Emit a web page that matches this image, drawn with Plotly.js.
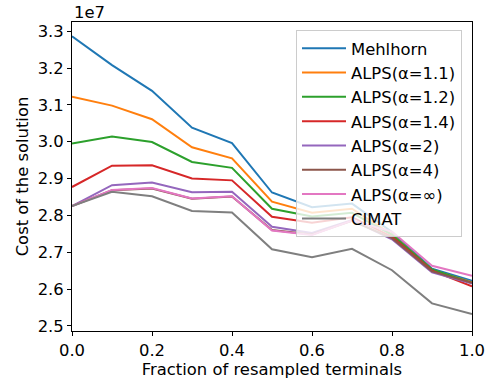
<!DOCTYPE html>
<html>
<head>
<meta charset="utf-8">
<script src="https://cdn.plot.ly/plotly-3.0.1.min.js"></script>
<style>html,body{margin:0;padding:0;background:#fff;}#chart{width:487px;height:381px;}</style>
</head>
<body>
<div id="chart"></div>
<script>
const fractions = [0.0, 0.1, 0.2, 0.3, 0.4, 0.5, 0.6, 0.7, 0.8, 0.9, 1.0];
const seriesNames = ["Mehlhorn", "ALPS(α=1.1)", "ALPS(α=1.2)", "ALPS(α=1.4)", "ALPS(α=2)", "ALPS(α=4)", "ALPS(α=∞)", "CIMAT"];
const seriesColors = ["#1f77b4", "#ff7f0e", "#2ca02c", "#d62728", "#9467bd", "#8c564b", "#e377c2", "#7f7f7f"];
// values in units of 1e7
const mehlhorn = [3.286, 3.208, 3.138, 3.038, 2.996, 2.862, 2.822, 2.832, 2.755, 2.655, 2.622];
const alps11   = [3.122, 3.098, 3.061, 2.985, 2.955, 2.837, 2.807, 2.818, 2.748, 2.652, 2.618];
const alps12   = [2.995, 3.014, 2.999, 2.945, 2.929, 2.818, 2.797, 2.807, 2.747, 2.653, 2.617];
const alps14   = [2.877, 2.935, 2.936, 2.900, 2.895, 2.796, 2.780, 2.795, 2.742, 2.650, 2.607];
const alps2    = [2.825, 2.882, 2.889, 2.863, 2.864, 2.769, 2.752, 2.787, 2.735, 2.645, 2.615];
const alps4    = [2.825, 2.868, 2.873, 2.845, 2.851, 2.760, 2.748, 2.785, 2.738, 2.648, 2.617];
const alpsInf  = [2.825, 2.869, 2.874, 2.846, 2.852, 2.759, 2.747, 2.786, 2.756, 2.663, 2.636];
const cimat    = [2.825, 2.864, 2.852, 2.812, 2.808, 2.708, 2.686, 2.709, 2.651, 2.561, 2.532];
const scale = 1e7;
const yTickVals = [2.5, 2.6, 2.7, 2.8, 2.9, 3.0, 3.1, 3.2, 3.3];
const yTickText = ["2.5", "2.6", "2.7", "2.8", "2.9", "3.0", "3.1", "3.2", "3.3"];
const xTickVals = [0.0, 0.2, 0.4, 0.6, 0.8, 1.0];
const xTickText = ["0.0", "0.2", "0.4", "0.6", "0.8", "1.0"];

const allSeries = [mehlhorn, alps11, alps12, alps14, alps2, alps4, alpsInf, cimat];
const traces = allSeries.map((vals, i) => ({
  x: fractions,
  y: vals.map(v => v * scale),
  type: "scatter",
  mode: "lines",
  name: seriesNames[i],
  legendgroup: seriesNames[i],
  line: {color: seriesColors[i], width: 2}
}));

const font = {family: "DejaVu Sans, sans-serif", size: 16.4, color: "#000"};
const layout = {
  width: 487, height: 381,
  margin: {l: 72, r: 15, t: 22, b: 50},
  paper_bgcolor: "#fff", plot_bgcolor: "#fff",
  font: font,
  showlegend: true,
  legend: {
    x: 0.975, y: 0.974, xanchor: "right", yanchor: "top",
    bgcolor: "rgba(255,255,255,0.8)", bordercolor: "#cccccc", borderwidth: 1,
    font: {family: "DejaVu Sans, sans-serif", size: 16.4, color: "#000"},
    traceorder: "grouped", tracegroupgap: 0, itemwidth: 44
  },
  xaxis: {
    range: [0, 1],
    tickvals: xTickVals, ticktext: xTickText,
    ticks: "outside", ticklen: 4, tickwidth: 1, tickcolor: "#000",
    showline: true, linecolor: "#000", linewidth: 1, mirror: true,
    showgrid: false, zeroline: false,
    title: {text: "Fraction of resampled terminals", font: font, standoff: 2}
  },
  yaxis: {
    range: [2.486 * scale, 3.325 * scale],
    tickvals: yTickVals.map(v => v * scale), ticktext: yTickText,
    ticks: "outside", ticklen: 4, tickwidth: 1, tickcolor: "#000",
    showline: true, linecolor: "#000", linewidth: 1, mirror: true,
    showgrid: false, zeroline: false,
    title: {text: "Cost of the solution", font: font, standoff: 4}
  },
  annotations: [{
    text: "1e7", xref: "paper", yref: "paper", x: 0, y: 1,
    xanchor: "left", yanchor: "bottom", showarrow: false,
    font: font, yshift: -2
  }]
};

Plotly.newPlot("chart", traces, layout, {displayModeBar: false, staticPlot: true});
</script>
</body>
</html>
